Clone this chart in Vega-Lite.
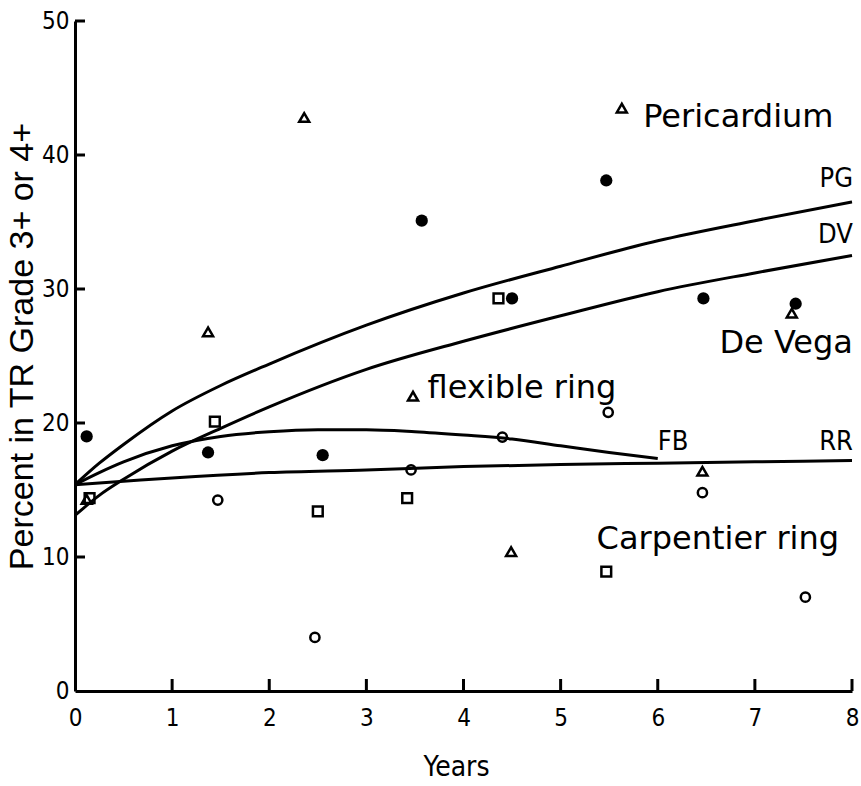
{
  "$schema": "https://vega.github.io/schema/vega-lite/v6.json",
  "width": 777,
  "height": 670,
  "autosize": {"type": "none"},
  "padding": {"left": 75, "top": 21, "right": 9, "bottom": 95},
  "background": "white",
  "config": {
    "view": {"stroke": null},
    "axis": {
      "grid": false,
      "ticks": false,
      "domainColor": "black",
      "domainWidth": 3,
      "labelColor": "black",
      "titleColor": "black",
      "labelFont": "Liberation Sans Narrow, DejaVu Sans Condensed, Liberation Sans",
      "titleFont": "Liberation Sans Narrow, DejaVu Sans Condensed, Liberation Sans",
      "titleFontWeight": "normal",
      "labelFontSize": 24,
      "labelFlush": false
    }
  },
  "datasets": {
    "points": [
      {"series": "solid circle", "x": 0.12, "y": 19.0},
      {"series": "solid circle", "x": 1.37, "y": 17.8},
      {"series": "solid circle", "x": 2.55, "y": 17.6},
      {"series": "solid circle", "x": 3.57, "y": 35.1},
      {"series": "solid circle", "x": 4.5, "y": 29.3},
      {"series": "solid circle", "x": 5.47, "y": 38.1},
      {"series": "solid circle", "x": 6.47, "y": 29.3},
      {"series": "solid circle", "x": 7.42, "y": 28.9},
      {"series": "open triangle", "x": 0.12, "y": 14.3},
      {"series": "open triangle", "x": 1.37, "y": 26.8},
      {"series": "open triangle", "x": 2.36, "y": 42.8},
      {"series": "open triangle", "x": 3.48, "y": 22.0},
      {"series": "open triangle", "x": 4.49, "y": 10.4},
      {"series": "open triangle", "x": 5.63, "y": 43.5},
      {"series": "open triangle", "x": 6.46, "y": 16.4},
      {"series": "open triangle", "x": 7.38, "y": 28.2},
      {"series": "open square", "x": 0.15, "y": 14.4},
      {"series": "open square", "x": 1.44, "y": 20.1},
      {"series": "open square", "x": 2.5, "y": 13.4},
      {"series": "open square", "x": 3.42, "y": 14.4},
      {"series": "open square", "x": 4.36, "y": 29.3},
      {"series": "open square", "x": 5.47, "y": 8.9},
      {"series": "open circle", "x": 1.47, "y": 14.25},
      {"series": "open circle", "x": 2.47, "y": 4.0},
      {"series": "open circle", "x": 3.46, "y": 16.5},
      {"series": "open circle", "x": 4.4, "y": 18.95},
      {"series": "open circle", "x": 5.49, "y": 20.8},
      {"series": "open circle", "x": 6.46, "y": 14.8},
      {"series": "open circle", "x": 7.52, "y": 7.0}
    ],
    "curves": [
      {"curve": "PG", "x": 0, "y": 15.4},
      {"curve": "PG", "x": 0.25, "y": 17.0},
      {"curve": "PG", "x": 0.5, "y": 18.4},
      {"curve": "PG", "x": 1, "y": 20.9},
      {"curve": "PG", "x": 1.5, "y": 22.8},
      {"curve": "PG", "x": 2, "y": 24.4},
      {"curve": "PG", "x": 3, "y": 27.3},
      {"curve": "PG", "x": 4, "y": 29.7},
      {"curve": "PG", "x": 5, "y": 31.7},
      {"curve": "PG", "x": 6, "y": 33.6},
      {"curve": "PG", "x": 7, "y": 35.1},
      {"curve": "PG", "x": 8, "y": 36.5},
      {"curve": "DV", "x": 0, "y": 13.1},
      {"curve": "DV", "x": 0.25, "y": 14.6},
      {"curve": "DV", "x": 0.5, "y": 15.8},
      {"curve": "DV", "x": 1, "y": 17.9},
      {"curve": "DV", "x": 1.5, "y": 19.6},
      {"curve": "DV", "x": 2, "y": 21.2},
      {"curve": "DV", "x": 3, "y": 24.0},
      {"curve": "DV", "x": 4, "y": 26.1},
      {"curve": "DV", "x": 5, "y": 28.0},
      {"curve": "DV", "x": 6, "y": 29.8},
      {"curve": "DV", "x": 7, "y": 31.2},
      {"curve": "DV", "x": 8, "y": 32.5},
      {"curve": "FB", "x": 0, "y": 15.4},
      {"curve": "FB", "x": 0.25, "y": 16.3},
      {"curve": "FB", "x": 0.5, "y": 17.1},
      {"curve": "FB", "x": 1, "y": 18.3},
      {"curve": "FB", "x": 1.5, "y": 19.0},
      {"curve": "FB", "x": 2, "y": 19.35},
      {"curve": "FB", "x": 2.5, "y": 19.5},
      {"curve": "FB", "x": 3, "y": 19.5},
      {"curve": "FB", "x": 3.5, "y": 19.35},
      {"curve": "FB", "x": 4, "y": 19.1},
      {"curve": "FB", "x": 4.5, "y": 18.8},
      {"curve": "FB", "x": 5, "y": 18.3},
      {"curve": "FB", "x": 5.5, "y": 17.8},
      {"curve": "FB", "x": 6, "y": 17.35},
      {"curve": "RR", "x": 0, "y": 15.4},
      {"curve": "RR", "x": 0.5, "y": 15.65},
      {"curve": "RR", "x": 1, "y": 15.9},
      {"curve": "RR", "x": 2, "y": 16.3},
      {"curve": "RR", "x": 3, "y": 16.5},
      {"curve": "RR", "x": 4, "y": 16.75},
      {"curve": "RR", "x": 5, "y": 16.9},
      {"curve": "RR", "x": 6, "y": 17.0},
      {"curve": "RR", "x": 7, "y": 17.1},
      {"curve": "RR", "x": 8, "y": 17.2}
    ],
    "xTicks": [
      {"x": 1, "y": 0}, {"x": 2, "y": 0}, {"x": 3, "y": 0}, {"x": 4, "y": 0},
      {"x": 5, "y": 0}, {"x": 6, "y": 0}, {"x": 7, "y": 0}, {"x": 8, "y": 0}
    ],
    "yTicks": [
      {"x": 0, "y": 10}, {"x": 0, "y": 20}, {"x": 0, "y": 30}, {"x": 0, "y": 40}, {"x": 0, "y": 50}
    ],
    "endLabels": [
      {"label": "PG", "x": 8.01, "y": 37.6},
      {"label": "DV", "x": 8.01, "y": 33.4},
      {"label": "RR", "x": 8.01, "y": 18.0}
    ],
    "midLabels": [
      {"label": "FB", "x": 6.0, "y": 18.0}
    ],
    "notes": [
      {"label": "Pericardium", "x": 5.85, "y": 42.1},
      {"label": "flexible ring", "x": 3.63, "y": 21.9},
      {"label": "Carpentier ring", "x": 5.37, "y": 10.57}
    ],
    "notesRight": [
      {"label": "De Vega", "x": 8.01, "y": 25.25}
    ]
  },
  "encoding": {
    "x": {
      "field": "x",
      "type": "quantitative",
      "scale": {"domain": [0, 8], "nice": false, "zero": false},
      "axis": {
        "values": [0, 1, 2, 3, 4, 5, 6, 7, 8],
        "labelPadding": 15,
        "labelBaseline": "top",
        "title": "Years",
        "titleFontSize": 28,
        "titleX": 381,
        "titleY": 84,
        "titleAlign": "center",
        "titleBaseline": "alphabetic"
      }
    },
    "y": {
      "field": "y",
      "type": "quantitative",
      "scale": {"domain": [0, 50], "nice": false, "zero": true},
      "axis": {
        "values": [0, 10, 20, 30, 40, 50],
        "labelPadding": 6,
        "title": "Percent in  TR Grade 3+ or 4+",
        "titleFont": "Liberation Sans",
        "titleFontSize": 34,
        "titleX": -53,
        "titleY": 325,
        "titleAngle": -90,
        "titleAlign": "center",
        "titleBaseline": "middle"
      }
    }
  },
  "layer": [
    {
      "data": {"name": "xTicks"},
      "mark": {"type": "tick", "orient": "vertical", "color": "black", "opacity": 1, "size": 12, "thickness": 3, "yOffset": -6}
    },
    {
      "data": {"name": "yTicks"},
      "mark": {"type": "tick", "orient": "horizontal", "color": "black", "opacity": 1, "size": 10, "thickness": 3, "xOffset": 5}
    },
    {
      "data": {"name": "curves"},
      "mark": {"type": "line", "color": "black", "strokeWidth": 3, "interpolate": "monotone"},
      "encoding": {"detail": {"field": "curve"}}
    },
    {
      "data": {"name": "points"},
      "transform": [{"filter": "datum.series === 'solid circle'"}],
      "mark": {"type": "point", "shape": "circle", "filled": true, "color": "black", "opacity": 1, "size": 150}
    },
    {
      "data": {"name": "points"},
      "transform": [{"filter": "datum.series === 'open circle'"}],
      "mark": {"type": "point", "shape": "circle", "filled": false, "color": "black", "opacity": 1, "size": 85, "strokeWidth": 2.5}
    },
    {
      "data": {"name": "points"},
      "transform": [{"filter": "datum.series === 'open square'"}],
      "mark": {"type": "point", "shape": "square", "filled": false, "color": "black", "opacity": 1, "size": 95, "strokeWidth": 2.5}
    },
    {
      "data": {"name": "points"},
      "transform": [{"filter": "datum.series === 'open triangle'"}],
      "mark": {"type": "point", "shape": "triangle-up", "filled": false, "color": "black", "opacity": 1, "size": 100, "strokeWidth": 2.5}
    },
    {
      "data": {"name": "endLabels"},
      "mark": {"type": "text", "align": "right", "baseline": "alphabetic", "font": "Liberation Sans Narrow, DejaVu Sans Condensed, Liberation Sans", "fontSize": 27, "color": "black"},
      "encoding": {"text": {"field": "label"}}
    },
    {
      "data": {"name": "midLabels"},
      "mark": {"type": "text", "align": "left", "baseline": "alphabetic", "font": "Liberation Sans Narrow, DejaVu Sans Condensed, Liberation Sans", "fontSize": 27, "color": "black"},
      "encoding": {"text": {"field": "label"}}
    },
    {
      "data": {"name": "notes"},
      "mark": {"type": "text", "align": "left", "baseline": "alphabetic", "font": "DejaVu Sans", "fontSize": 32, "color": "black"},
      "encoding": {"text": {"field": "label"}}
    },
    {
      "data": {"name": "notesRight"},
      "mark": {"type": "text", "align": "right", "baseline": "alphabetic", "font": "DejaVu Sans", "fontSize": 32, "color": "black"},
      "encoding": {"text": {"field": "label"}}
    }
  ]
}
